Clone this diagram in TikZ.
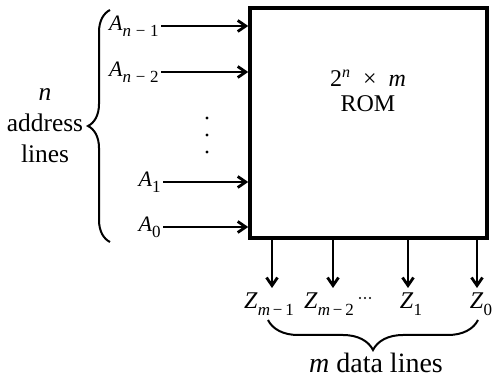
\documentclass[tikz,border=0pt]{standalone}
\usepackage{fontspec}
\setmainfont{Liberation Serif}
\usetikzlibrary{arrows.meta,decorations.pathreplacing,positioning}

% italic letter followed by "letter minus"
\newcommand{\idx}[1]{\textit{#1}\;−\;}
\newcommand{\idxs}[1]{\textit{#1}\,−\,}

\begin{document}
\begin{tikzpicture}[x=0.5pt, y=0.5pt, font=\fontsize{12.7}{15.5}\selectfont,
    sig/.style={line width=1pt, -{Straight Barb[length=4pt,width=5.5pt,line width=1.4pt]}},
    lab/.style={inner sep=1pt},
    brc/.style={line width=1pt, decorate}]

        \useasboundingbox (0,0) rectangle (493,380);

        % 1. ROM block
        \node[draw, line width=1.8pt, minimum width=118.5pt, minimum height=115pt] (rom) at (368.5,257) {};
        \node[align=center, font=\fontsize{12}{12.5}\selectfont] (romtxt) at (368,289)
            {2\textsuperscript{\textit{n}}\enspace\texttimes\enspace\textit{m}\\ROM};

        % 2. address lines on the left
        \foreach \i/\x/\y/\txt in {a3/161/354/{\idx{n}1},
                                   a2/161/308/{\idx{n}2},
                                   a1/163/198/{1},
                                   a0/163/153/{0}} {
            \node[lab, anchor=east, font=\fontsize{11}{12}\selectfont] (\i) at (\x,\y)
                {\textit{A}\raisebox{-3pt}{\fontsize{8.5}{9}\selectfont\txt}};
            \draw[sig] (\i.east) -- (\i.east -| rom.west);
        }

        % vertical dots
        \foreach \y in {262,245,228} {
            \fill (207,\y) circle (0.8pt);
        }

        % brace and its label
        \draw[brc, decoration={brace, amplitude=11pt}] (110,138) -- (110,370);
        \node[align=center] (nlines) at (45,254) {\textit{n}\\address\\lines};

        % 3. data lines below
        \foreach \i/\x/\dx/\txt in {z3/272/-1.5pt/{\idxs{m}1},
                                    z2/333/-2pt/{\idxs{m}2},
                                    z1/408/1.5pt/{1},
                                    z0/477/2pt/{0}} {
            \coordinate (\i tip) at (\x,92);
            \draw[sig] (\i tip |- rom.south) -- (\i tip);
            \node[lab, below=1pt of \i tip, xshift=\dx, font=\fontsize{12}{13}\selectfont] (\i)
                {\textit{Z}\raisebox{-3.5pt}{\fontsize{8.5}{10}\selectfont\txt}};
        }

        % horizontal dots
        \foreach \x in {360,365,370} {
            \fill (\x,82) circle (0.55pt);
        }

        % brace and its label
        \draw[brc, decoration={brace, amplitude=15pt}] (478,60) -- (268,60);
        \node[font=\fontsize{14}{16}\selectfont] (mlines) at (376,17) {\textit{m} data lines};

\end{tikzpicture}
\end{document}
